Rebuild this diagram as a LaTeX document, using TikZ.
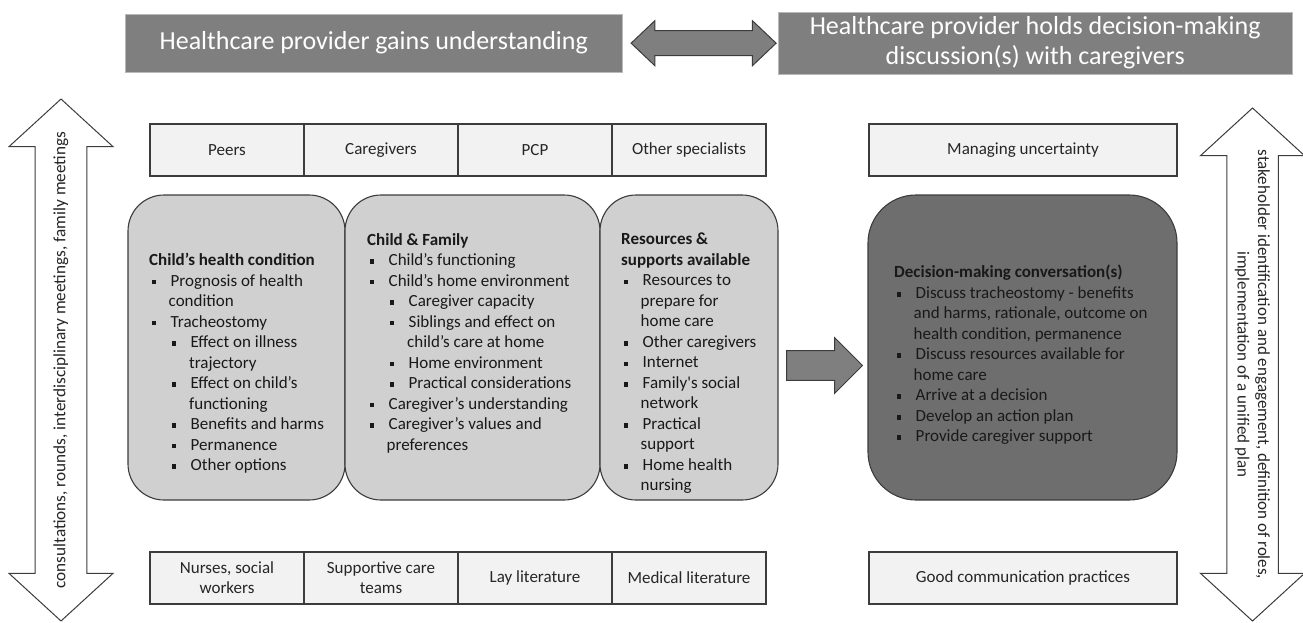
\documentclass[tikz,border=0pt]{standalone}
\usepackage{xcolor}
\usepackage{fontspec}
\setmainfont{Carlito}
\usepackage{tikz}
\usetikzlibrary{shapes,arrows,positioning,calc,arrows.meta}

\definecolor{bannergray}{HTML}{7F7F7F}
\definecolor{panelgray}{HTML}{D0D0D0}
\definecolor{darkpanel}{HTML}{6E6E6E}
\definecolor{cellgray}{HTML}{F2F2F2}
\definecolor{edgegray}{HTML}{3C3C3C}

% list marks inside the panels
\newcommand{\bul}{\hspace*{2.5pt}\rule[1.8pt]{4.2pt}{4.6pt}\hspace*{14.8pt}}
\newcommand{\bulcont}{\hspace*{19.5pt}}
\newcommand{\subbul}{\hspace*{22.5pt}\rule[1.8pt]{4.2pt}{4.6pt}\hspace*{14.8pt}}
\newcommand{\subcont}{\hspace*{40pt}}

\begin{document}
\begin{tikzpicture}[x=1pt, y=-1pt,
        banner/.style={rectangle, draw=gray!55, fill=bannergray, text=white, inner sep=0pt, align=center, font=\fontsize{26pt}{30pt}\selectfont},
        cell/.style={rectangle, draw=edgegray, line width=1.1pt, fill=cellgray, minimum width=154pt, minimum height=52pt, inner sep=0pt, outer sep=0pt, align=center, text=black!85, font=\fontsize{17pt}{20pt}\selectfont},
        panel/.style={rectangle, draw=edgegray, line width=1.1pt, fill=panelgray, rounded corners=36pt, minimum height=305pt, inner sep=0pt, outer sep=0pt},
        paneltext/.style={anchor=north west, inner sep=0pt, align=left, text=black!90, font=\fontsize{17pt}{20.5pt}\selectfont},
        sidearrow/.style={double arrow, draw=edgegray, line width=1pt, fill=white, double arrow tip angle=95, double arrow head extend=26pt, minimum width=104pt, inner xsep=2pt, align=center, text=black!85},
        blockarrow/.style={single arrow, draw=edgegray, line width=1pt, fill=bannergray, single arrow tip angle=90, single arrow head extend=13pt, minimum width=56pt, minimum height=76pt, inner xsep=0pt, inner ysep=14pt},
      ]
      \useasboundingbox (0,0) rectangle (1303,623);

      \node [banner, anchor=north west, minimum width=497pt, minimum height=58pt] (gains) at (125,14) {Healthcare provider gains understanding};
      \node [banner, anchor=north west, minimum width=514pt, minimum height=62pt] (holds) at (778,12) {Healthcare provider holds decision-making\\discussion(s) with caregivers};
      \node [double arrow, draw=edgegray, line width=1pt, fill=bannergray, double arrow tip angle=87, double arrow head extend=10pt, minimum width=44pt, minimum height=145pt, inner xsep=0pt, inner ysep=12pt, right=8pt of gains] (exchange) {};

      % sources of understanding
      \node [cell, anchor=north west] (peers) at (150,124) {Peers};
      \node [cell, right=0pt of peers] (caregivers) {Caregivers};
      \node [cell, right=0pt of caregivers] (pcp) {PCP};
      \node [cell, right=0pt of pcp] (specialists) {Other specialists};
      \node [cell, anchor=north west] (nurses) at (150,552) {Nurses, social\\workers};
      \node [cell, right=0pt of nurses] (supportive) {Supportive care\\teams};
      \node [cell, right=0pt of supportive] (laylit) {Lay literature};
      \node [cell, right=0pt of laylit] (medlit) {Medical literature};

      \node [panel, anchor=north west, minimum width=217pt] (health) at (128,195) {};
      \node [panel, right=0pt of health, minimum width=255pt] (family) {};
      \node [panel, right=0pt of family, minimum width=178pt] (resources) {};

      \node [paneltext] (healthtxt) at (149,253) {\textbf{Child’s health condition}\\
        \bul Prognosis of health\\
        \bulcont condition\\
        \bul Tracheostomy\\
        \subbul Effect on illness\\
        \subcont trajectory\\
        \subbul Effect on child’s\\
        \subcont functioning\\
        \subbul Benefits and harms\\
        \subbul Permanence\\
        \subbul Other options};
      \node [paneltext] (familytxt) at (367,233) {\textbf{Child \& Family}\\
        \bul Child’s functioning\\
        \bul Child’s home environment\\
        \subbul Caregiver capacity\\
        \subbul Siblings and effect on\\
        \subcont child’s care at home\\
        \subbul Home environment\\
        \subbul Practical considerations\\
        \bul Caregiver’s understanding\\
        \bul Caregiver’s values and\\
        \bulcont preferences};
      \node [paneltext] (resourcestxt) at (621,233) {\textbf{Resources \&}\\
        \textbf{supports available}\\
        \bul Resources to\\
        \bulcont prepare for\\
        \bulcont home care\\
        \bul Other caregivers\\
        \bul Internet\\
        \bul Family\textquotesingle s social\\
        \bulcont network\\
        \bul Practical\\
        \bulcont support\\
        \bul Home health\\
        \bulcont nursing};

      % decision side
      \node [cell, anchor=north west, minimum width=308pt] (uncertainty) at (869,124) {Managing uncertainty};
      \node [cell, anchor=north west, minimum width=308pt] (goodcomm) at (869,552) {Good communication practices};
      \node [panel, anchor=north west, fill=darkpanel, rounded corners=48pt, minimum width=309pt] (decide) at (868,195) {};
      \node [paneltext] (decidetxt) at (894,265) {\textbf{Decision-making conversation(s)}\\
        \bul Discuss tracheostomy - benefits\\
        \bulcont and harms, rationale, outcome on\\
        \bulcont health condition, permanence\\
        \bul Discuss resources available for\\
        \bulcont home care\\
        \bul Arrive at a decision\\
        \bul Develop an action plan\\
        \bul Provide caregiver support};

      \node [blockarrow, right=8pt of resources, yshift=-18pt] (toward) {};

      \node [sidearrow, rotate=90, minimum height=522pt, inner ysep=18pt, font=\fontsize{17.2pt}{20pt}\selectfont] (meetings) at (61,360) {consultations, rounds, interdisciplinary meetings, family meetings};
      \node [sidearrow, rotate=-90, minimum height=513pt, inner ysep=7.5pt, font=\fontsize{17pt}{20.5pt}\selectfont] (roles) at (1252.5,364.5) {stakeholder identification and engagement, definition of roles,\\implementation of a unified plan};
    \end{tikzpicture}
\end{document}
